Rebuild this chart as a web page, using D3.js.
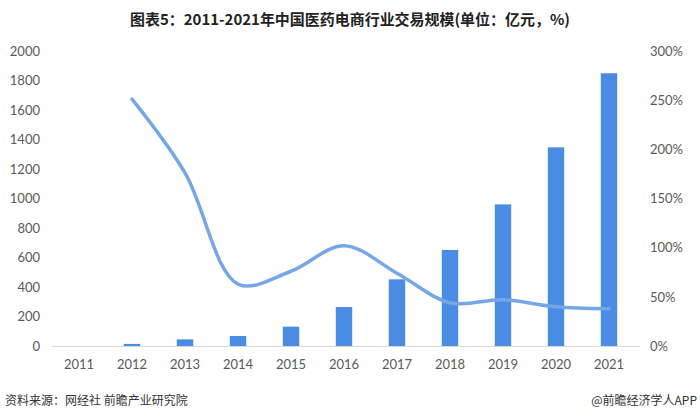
<!DOCTYPE html>
<html><head><meta charset="utf-8">
<script src="https://cdn.jsdelivr.net/npm/d3@7"></script>
<style>body{margin:0;background:#fff}svg{display:block}</style>
</head><body>
<svg id="c" width="700" height="420"></svg>
<script>
const years = ["2011","2012","2013","2014","2015","2016","2017","2018","2019","2020","2021"];
const scale = [0, 14, 45, 68, 131, 264, 452, 651, 960, 1347, 1849];
const growth = [null, 251, 176, 63, 76, 102, 74, 44, 47, 40, 38];
const leftTicks = [0,200,400,600,800,1000,1200,1400,1600,1800,2000];
const rightTicks = [0,50,100,150,200,250,300];
const title = "图表5：2011-2021年中国医药电商行业交易规模(单位：亿元，%)";
const source = "资料来源：网经社 前瞻产业研究院";
const credit = "@前瞻经济学人APP";

const svg = d3.select("#c");
const x = d3.scaleBand().domain(years).range([52.5, 635.5]).paddingInner(0.69).paddingOuter(0.345);
const yL = d3.scaleLinear().domain([0,2000]).range([346,51]);
const yR = d3.scaleLinear().domain([0,300]).range([346,51]);
const font = "Lato, 'Noto Sans CJK SC', sans-serif";

svg.append("text").attr("x",350).attr("y",25).attr("text-anchor","middle")
  .attr("font-family","'Noto Sans CJK SC', sans-serif").attr("font-weight","bold")
  .attr("font-size",15).attr("fill","#222").attr("textLength",440).attr("lengthAdjust","spacingAndGlyphs")
  .text(title);

// axes
const gL = svg.append("g").attr("transform","translate(40,0)")
  .call(d3.axisLeft(yL).tickValues(leftTicks).tickSize(0).tickPadding(0).tickFormat(d3.format("d")));
const gR = svg.append("g").attr("transform","translate(650,0)")
  .call(d3.axisRight(yR).tickValues(rightTicks).tickSize(0).tickPadding(0).tickFormat(d=>d+"%"));
const gX = svg.append("g").attr("transform","translate(0,346)")
  .call(d3.axisBottom(x).tickSize(0).tickPadding(14));
[gL,gR,gX].forEach(g=>{
  g.select(".domain").remove();
  g.selectAll("text").attr("font-family",font).attr("font-size",13).attr("fill","#595959");
});

// bars
svg.append("g").selectAll("rect").data(years).join("rect")
  .attr("x",d=>x(d)).attr("width",x.bandwidth())
  .attr("y",(d,i)=>yL(scale[i])).attr("height",(d,i)=>yL(0)-yL(scale[i]))
  .attr("fill","#4a8be3");

// baseline
svg.append("line").attr("x1",52).attr("x2",640).attr("y1",346.5).attr("y2",346.5)
  .attr("stroke","#d9d9d9").attr("stroke-width",1);

// line
const pts = years.map((d,i)=>({d,v:growth[i]})).filter(p=>p.v!=null);
svg.append("path").datum(pts)
  .attr("d", d3.line().x(p=>x(p.d)+x.bandwidth()/2).y(p=>yR(p.v)).curve(d3.curveCatmullRom.alpha(0.5)))
  .attr("fill","none").attr("stroke","#75a7e8").attr("stroke-width",3.5).attr("stroke-linecap","round");

svg.append("text").attr("x",5).attr("y",405).attr("font-family","'Noto Sans CJK SC', sans-serif")
  .attr("font-size",12).attr("fill","#333").text(source);
svg.append("text").attr("x",697).attr("y",405).attr("text-anchor","end").attr("font-family","'Noto Sans CJK SC', sans-serif")
  .attr("font-size",12).attr("fill","#333").text(credit);
</script>
</body></html>
